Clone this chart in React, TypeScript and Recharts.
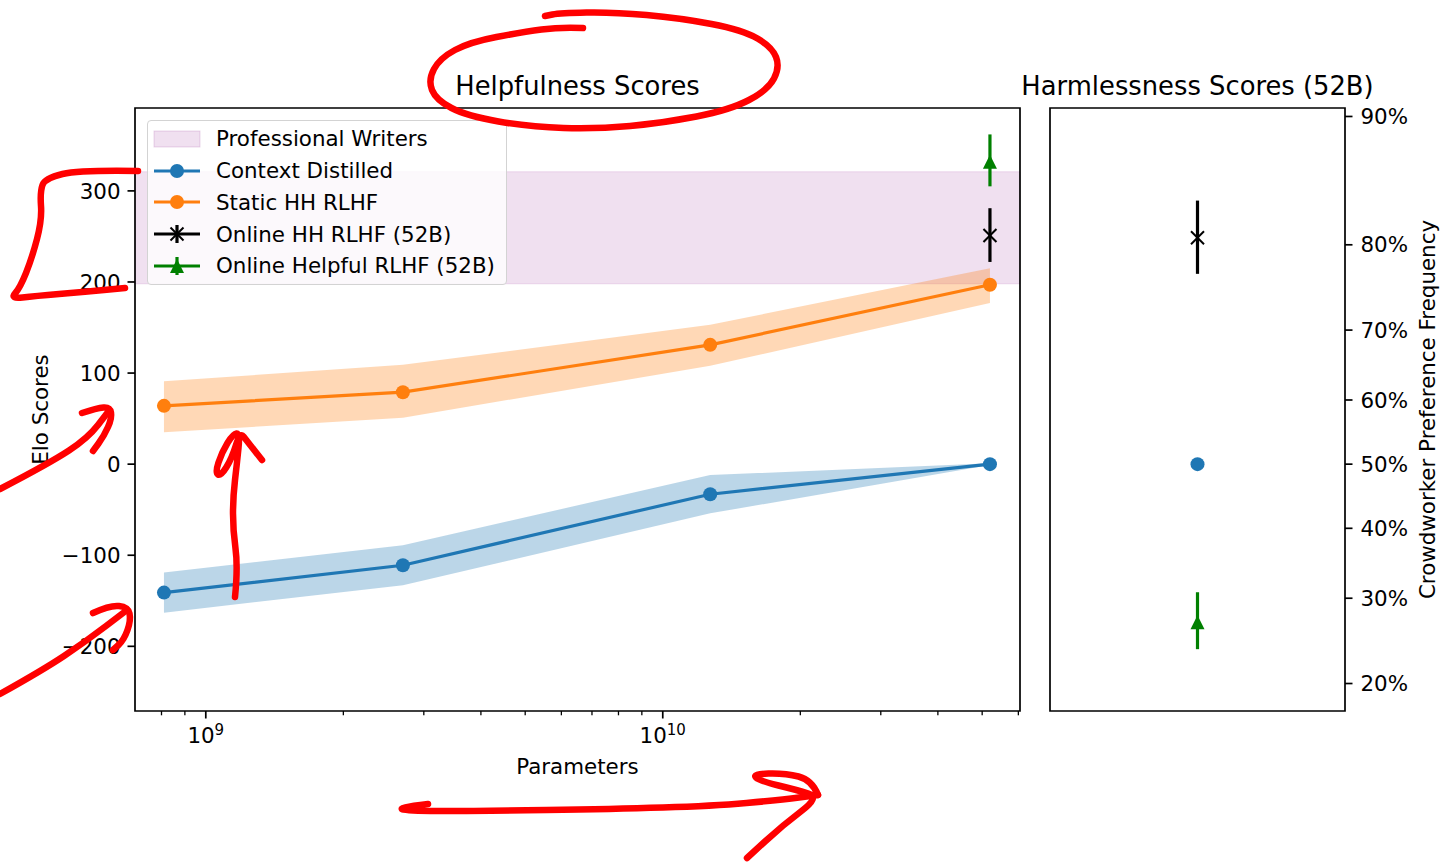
import React from 'react'
import { ComposedChart, Line, Area, Scatter, XAxis, YAxis, ReferenceArea, ErrorBar, Legend } from 'recharts'

const FONT = '"DejaVu Sans", sans-serif'
const BLUE = '#1f77b4'
const ORANGE = '#ff7f0e'
const GREEN = '#008000'
const PURPLE = '#800080'

// helpfulness panel (Elo vs parameters)
const paramCounts = [8.1e8, 2.7e9, 1.27e10, 5.2e10]
const contextDistilled = [-141, -111, -33, 0]
const contextDistilledLow = [-163, -133, -54, -1]
const contextDistilledHigh = [-119, -89, -12, 1]
const staticHH = [64, 79, 131, 197]
const staticHHLow = [35, 51, 108, 177]
const staticHHHigh = [91, 109, 153, 215]
const proWriters = [198, 321]
const onlineParams = 5.2e10
const onlineHHElo = 251
const onlineHHErr = [29, 30]
const onlineHelpfulElo = 332
const onlineHelpfulErr = [27, 30]

// harmlessness panel (preference %)
const harmPct = [50, 80.7, 26.9]
const harmPctLow = [50, 76.9, 23.7]
const harmPctHigh = [50, 84.1, 30.8]

const eloDomain = [-271, 391]
const xDomain = [7e8, 6.05e10]
const yTicks = [-200, -100, 0, 100, 200, 300]
const xMajorTicks = [1e9, 1e10]
const xMinorTicks = [8e8, 9e8, 2e9, 3e9, 4e9, 5e9, 6e9, 7e9, 8e9, 9e9, 2e10, 3e10, 4e10, 5e10, 6e10]
const pctTicks = [20, 30, 40, 50, 60, 70, 80, 90]

const legendNames = ['Professional Writers', 'Context Distilled', 'Static HH RLHF', 'Online HH RLHF (52B)', 'Online Helpful RLHF (52B)']
const legendKinds = ['patch', 'dot', 'dot', 'x', 'tri']
const legendColors = [PURPLE, BLUE, ORANGE, '#000', GREEN]

const toElo = (pct: number) => 400 * Math.log10(pct / (100 - pct))

const helpRows = paramCounts.map((p, i) => ({
  params: p,
  cd: contextDistilled[i],
  cdBand: [contextDistilledLow[i], contextDistilledHigh[i]],
  st: staticHH[i],
  stBand: [staticHHLow[i], staticHHHigh[i]],
}))

const harmPoint = (i: number) => [{
  x: 1,
  elo: toElo(harmPct[i]),
  err: [toElo(harmPct[i]) - toElo(harmPctLow[i]), toElo(harmPctHigh[i]) - toElo(harmPct[i])],
}]

const XMarker = ({ cx, cy }: any) => (
  <g stroke="#000" strokeWidth={2}>
    <line x1={cx - 6.5} y1={cy - 6.5} x2={cx + 6.5} y2={cy + 6.5} />
    <line x1={cx - 6.5} y1={cy + 6.5} x2={cx + 6.5} y2={cy - 6.5} />
  </g>
)
const TriMarker = ({ cx, cy }: any) => (
  <polygon points={`${cx},${cy - 7} ${cx - 7},${cy + 7} ${cx + 7},${cy + 7}`} fill={GREEN} />
)
const DotMarker = ({ cx, cy }: any) => <circle cx={cx} cy={cy} r={7} fill={BLUE} />

const fmtElo = (v: number) => (v < 0 ? '\u2212' + Math.abs(v) : String(v))

const EloTick = ({ x, y, payload }: any) => (
  <g>
    <line x1={x} x2={x - 7.5} y1={y} y2={y} stroke="#000" strokeWidth={1.7} />
    <text x={x - 14.5} y={y} dy="0.36em" textAnchor="end" fontSize={21.4} fontFamily={FONT} fill="#000">
      {fmtElo(payload.value)}
    </text>
  </g>
)

const LogTick = ({ x, y, payload }: any) => {
  const major = xMajorTicks.includes(payload.value)
  return (
    <g>
      <line x1={x} x2={x} y1={y} y2={y + (major ? 7.5 : 4.3)} stroke="#000" strokeWidth={major ? 1.7 : 1.3} />
      {major && (
        <text x={x} y={y + 32} textAnchor="middle" fontSize={21.4} fontFamily={FONT} fill="#000">
          10<tspan dy={-8} fontSize={15}>{Math.round(Math.log10(payload.value))}</tspan>
        </text>
      )}
    </g>
  )
}

const PctTick = ({ x, y, payload }: any) => (
  <g>
    <line x1={x} x2={x + 7.5} y1={y} y2={y} stroke="#000" strokeWidth={1.7} />
    <text x={x + 15.5} y={y} dy="0.36em" textAnchor="start" fontSize={21.4} fontFamily={FONT} fill="#000">
      {Math.round(100 / (1 + Math.pow(10, -payload.value / 400)))}%
    </text>
  </g>
)

const Handle = ({ kind, color }: { kind: string; color: string }) => {
  if (kind === 'patch')
    return <rect x={0} y={6} width={46} height={16} fill={color} fillOpacity={0.12} stroke={color} strokeOpacity={0.15} />
  return (
    <g>
      <line x1={0} x2={46} y1={14} y2={14} stroke={color} strokeWidth={3.2} />
      {kind === 'dot' && <circle cx={23} cy={14} r={7} fill={color} />}
      {(kind === 'x' || kind === 'tri') && <line x1={23} x2={23} y1={5} y2={23} stroke={color} strokeWidth={3.2} />}
      {kind === 'x' && <XMarker cx={23} cy={14} />}
      {kind === 'tri' && <TriMarker cx={23} cy={14} />}
    </g>
  )
}

const LegendBox = () => (
  <div
    style={{
      width: 360, boxSizing: 'border-box', background: 'rgba(255,255,255,0.8)', border: '1px solid #d3d3d3',
      borderRadius: 4, padding: '2px 8px 2px 6px', fontFamily: FONT, fontSize: 21.4, color: '#000', lineHeight: 1,
    }}
  >
    {legendNames.map((name, i) => (
      <div key={name} style={{ display: 'flex', alignItems: 'center', height: 31.8 }}>
        <svg width={46} height={28} style={{ marginRight: 16, overflow: 'visible' }}>
          <Handle kind={legendKinds[i]} color={legendColors[i]} />
        </svg>
        <span>{name}</span>
      </div>
    ))}
  </div>
)

// smooth path through hand-drawn pen points
const smooth = (pts: number[][]) => {
  let d = `M${pts[0][0]},${pts[0][1]}`
  for (let i = 1; i < pts.length - 1; i++) {
    const mx = (pts[i][0] + pts[i + 1][0]) / 2
    const my = (pts[i][1] + pts[i + 1][1]) / 2
    d += ` Q${pts[i][0]},${pts[i][1]} ${mx},${my}`
  }
  const l = pts[pts.length - 1]
  return d + ` L${l[0]},${l[1]}`
}

const scribbles = [
  [[583, 28], [560, 27], [523, 32], [470, 42], [440, 58], [428, 80], [436, 100], [467, 116], [530, 127], [597, 129], [663, 123], [730, 110], [768, 90], [780, 67], [772, 47], [743, 30], [680, 18], [613, 12], [560, 13], [545, 16]],
  [[138, 171], [80, 170], [45, 178], [40, 192], [42, 220], [32, 258], [20, 288], [10, 299], [35, 296], [83, 292], [125, 288]],
  [[0, 489], [50, 463], [88, 438], [108, 412]],
  [[82, 413], [97, 408], [110, 407], [112, 418], [104, 436], [93, 451]],
  [[0, 694], [43, 670], [85, 642], [127, 610]],
  [[93, 613], [110, 605], [128, 607], [131, 620], [124, 640], [113, 650]],
  [[235, 597], [238, 567], [233, 530], [233, 497], [237, 463], [240, 433], [233, 434], [222, 452], [215, 473], [221, 476], [232, 458], [240, 432], [247, 441], [262, 460]],
  [[428, 804], [395, 808], [412, 811], [480, 811], [613, 809], [713, 806], [780, 800], [818, 795]],
  [[818, 795], [812, 780], [785, 773], [752, 774], [760, 781], [797, 790], [820, 797], [783, 825], [747, 858]],
]

export default function App() {
  return (
    <div style={{ position: 'absolute', left: 0, top: 0, width: 1440, height: 863, background: '#fff', overflow: 'hidden' }}>
      <div style={{ position: 'absolute', left: 0, top: 0 }}>
        <ComposedChart width={1040} height={800} data={helpRows} margin={{ top: 108, right: 20, bottom: 19, left: 0 }}>
          <XAxis
            dataKey="params" type="number" scale="log" domain={xDomain} allowDataOverflow
            ticks={[...xMinorTicks, ...xMajorTicks].sort((a, b) => a - b)} interval={0}
            tick={<LogTick />} tickSize={0} tickMargin={0} tickLine={false} axisLine={false} height={70}
          />
          <YAxis
            type="number" domain={eloDomain} allowDataOverflow ticks={yTicks} interval={0}
            tick={<EloTick />} tickSize={0} tickMargin={0} tickLine={false} axisLine={false} width={135}
          />
          <ReferenceArea y1={proWriters[0]} y2={proWriters[1]} fill={PURPLE} fillOpacity={0.12} stroke={PURPLE} strokeOpacity={0.12} />
          <Area type="linear" dataKey="cdBand" stroke="none" fill={BLUE} fillOpacity={0.3} isAnimationActive={false} />
          <Area type="linear" dataKey="stBand" stroke="none" fill={ORANGE} fillOpacity={0.3} isAnimationActive={false} />
          <Line type="linear" dataKey="cd" stroke={BLUE} strokeWidth={3.2} dot={{ r: 7, fill: BLUE, stroke: BLUE, strokeWidth: 0 }} isAnimationActive={false} />
          <Line type="linear" dataKey="st" stroke={ORANGE} strokeWidth={3.2} dot={{ r: 7, fill: ORANGE, stroke: ORANGE, strokeWidth: 0 }} isAnimationActive={false} />
          <Scatter data={[{ params: onlineParams, elo: onlineHHElo, err: onlineHHErr }]} dataKey="elo" shape={(p: any) => <XMarker {...p} />} isAnimationActive={false}>
            <ErrorBar dataKey="err" direction="y" width={0} stroke="#000" strokeWidth={3.2} />
          </Scatter>
          <Scatter data={[{ params: onlineParams, elo: onlineHelpfulElo, err: onlineHelpfulErr }]} dataKey="elo" shape={(p: any) => <TriMarker {...p} />} isAnimationActive={false}>
            <ErrorBar dataKey="err" direction="y" width={0} stroke={GREEN} strokeWidth={3.2} />
          </Scatter>
          <ReferenceArea y1={eloDomain[0]} y2={eloDomain[1]} fill="none" stroke="#000" strokeWidth={1.7} />
          <Legend
            layout="vertical" align="center" verticalAlign="middle"
            wrapperStyle={{ left: 147, top: 120, width: 360, height: 'auto' }}
            content={() => <LegendBox />}
          />
        </ComposedChart>
      </div>

      <div style={{ position: 'absolute', left: 1040, top: 0 }}>
        <ComposedChart width={400} height={800} margin={{ top: 108, right: 0, bottom: 89, left: 10 }}>
          <XAxis dataKey="x" type="number" domain={[0, 2]} hide />
          <YAxis
            yAxisId="pct" orientation="right" type="number" domain={eloDomain} allowDataOverflow
            ticks={pctTicks.map(toElo)} interval={0} tick={<PctTick />} tickSize={0} tickMargin={0}
            tickLine={false} axisLine={false} width={95}
          />
          <ReferenceArea yAxisId="pct" y1={eloDomain[0]} y2={eloDomain[1]} fill="none" stroke="#000" strokeWidth={1.7} />
          <Scatter yAxisId="pct" data={harmPoint(1)} dataKey="elo" shape={(p: any) => <XMarker {...p} />} isAnimationActive={false}>
            <ErrorBar dataKey="err" direction="y" width={0} stroke="#000" strokeWidth={3.2} />
          </Scatter>
          <Scatter yAxisId="pct" data={harmPoint(2)} dataKey="elo" shape={(p: any) => <TriMarker {...p} />} isAnimationActive={false}>
            <ErrorBar dataKey="err" direction="y" width={0} stroke={GREEN} strokeWidth={3.2} />
          </Scatter>
          <Scatter yAxisId="pct" data={harmPoint(0)} dataKey="elo" shape={(p: any) => <DotMarker {...p} />} isAnimationActive={false} />
        </ComposedChart>
      </div>

      <svg width={1440} height={863} style={{ position: 'absolute', left: 0, top: 0, pointerEvents: 'none' }}>
        <g fontFamily={FONT} fill="#000">
          <text x={577.5} y={95} textAnchor="middle" fontSize={25.8}>Helpfulness Scores</text>
          <text x={1197.5} y={95} textAnchor="middle" fontSize={25.8}>Harmlessness Scores (52B)</text>
          <text x={577.5} y={774} textAnchor="middle" fontSize={21.4}>Parameters</text>
          <text transform="translate(48,409.5) rotate(-90)" textAnchor="middle" fontSize={21.4}>Elo Scores</text>
          <text transform="translate(1434.5,409.5) rotate(-90)" textAnchor="middle" fontSize={21.4}>Crowdworker Preference Frequency</text>
        </g>
        <g fill="none" stroke="#ff0000" strokeWidth={6.5} strokeLinecap="round" strokeLinejoin="round">
          {scribbles.map((pts, i) => <path key={i} d={smooth(pts)} />)}
        </g>
      </svg>
    </div>
  )
}
